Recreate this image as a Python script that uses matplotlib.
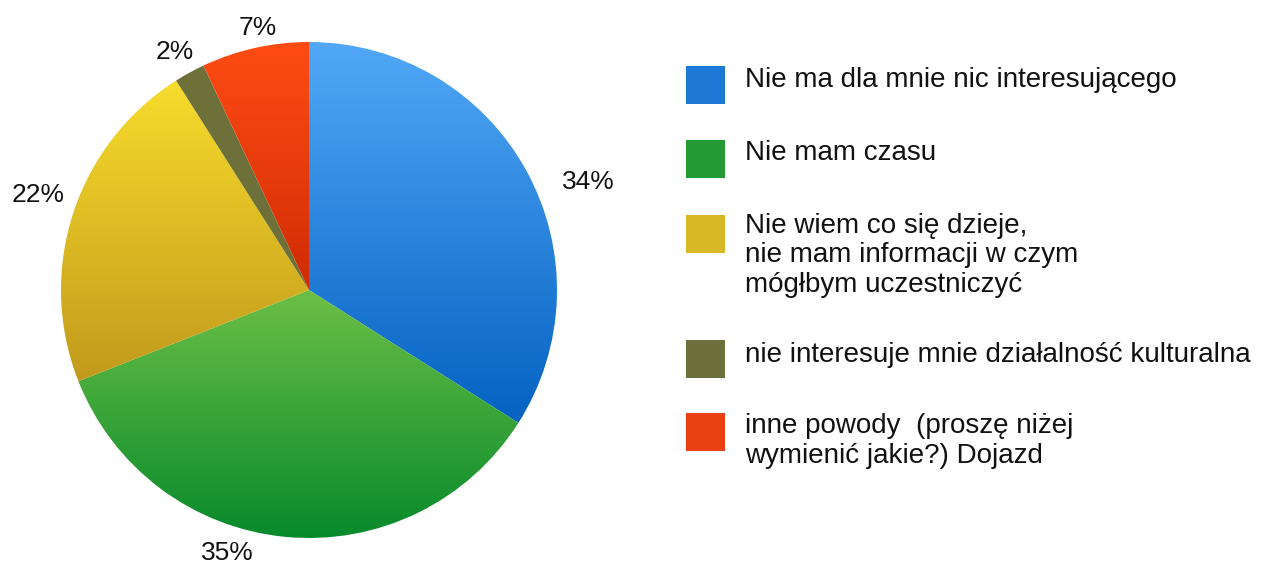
import numpy as np
import matplotlib
matplotlib.use("Agg")
import matplotlib.pyplot as plt
from matplotlib.colors import LinearSegmentedColormap
from matplotlib.patches import Rectangle

plt.rcParams['font.family'] = ['Liberation Sans', 'DejaVu Sans']

categories = ["Nie ma dla mnie nic interesującego",
              "Nie mam czasu",
              "Nie wiem co się dzieje,\nnie mam informacji w czym\nmógłbym uczestniczyć",
              "nie interesuje mnie działalność kulturalna",
              "inne powody  (proszę niżej\nwymienić jakie?) Dojazd"]
values = [34, 35, 22, 2, 7]
pct_labels = ["34%", "35%", "22%", "2%", "7%"]

# gradient top -> bottom for each slice, flat colour for legend swatch
grad_top = ["#52a8f7", "#6cbf46", "#f7dc2c", "#6e703a", "#ff4c14"]
grad_bot = ["#0562c2", "#088a2c", "#c29a1c", "#6e703a", "#d02c06"]
swatch = ["#1c78d4", "#259a34", "#d8b826", "#6c6f3a", "#ea4113"]

# label placement (baseline, relative to pie radius)
lab_xy = [(1.125, 0.407), (-0.331, -1.089), (-1.091, 0.355), (-0.540, 0.931), (-0.206, 1.028)]

W, H = 1282, 562
fig = plt.figure(figsize=(W / 100, H / 100), dpi=100)

# pie axes: centre at (309, 290) px, radius 248 px
cx, cy, R = 309, 290, 248
ax = fig.add_axes([0, 0, 620 / W, 1])
ax.axis("off")

wedges, _ = ax.pie(values, startangle=90, counterclock=False, radius=1,
                   colors=swatch, wedgeprops=dict(linewidth=0))

for w, c1, c2 in zip(wedges, grad_top, grad_bot):
    ext = w.get_path().get_extents()
    cmap = LinearSegmentedColormap.from_list("g", [c2, c1])
    grad = np.linspace(0, 1, 256).reshape(-1, 1)
    im = ax.imshow(grad, cmap=cmap, origin="lower", aspect="auto",
                   extent=[ext.x0, ext.x1, ext.y0, ext.y1], zorder=2,
                   interpolation="bilinear")
    im.set_clip_path(w)
    w.set_facecolor("none")

ax.set_aspect("auto")
ax.set_xlim((0 - cx) / R, (620 - cx) / R)
ax.set_ylim((cy - H) / R, cy / R)

for (lx, ly), t in zip(lab_xy, pct_labels):
    ax.text(lx, ly, t, ha="center", va="baseline", fontsize=19, color="#111111",
            zorder=5, clip_on=False)

# legend in pixel coordinates
lg = fig.add_axes([0, 0, 1, 1], zorder=-1)
lg.set_xlim(0, W)
lg.set_ylim(H, 0)
lg.axis("off")

sw_top = [66, 140, 215, 340, 413]
txt_base = [87, 160, 232, 362, 433]   # baseline of first line
line_gap = 30
for y, b, c, t in zip(sw_top, txt_base, swatch, categories):
    lg.add_patch(Rectangle((686, y), 39, 38, facecolor=c, edgecolor="none"))
    n = t.count("\n")
    # va='baseline' anchors the last line, so shift down by the extra lines
    lg.text(745, b + n * line_gap, t, ha="left", va="baseline", fontsize=20,
            color="#111111", linespacing=1.18)

fig.savefig("out.png", dpi=100)
